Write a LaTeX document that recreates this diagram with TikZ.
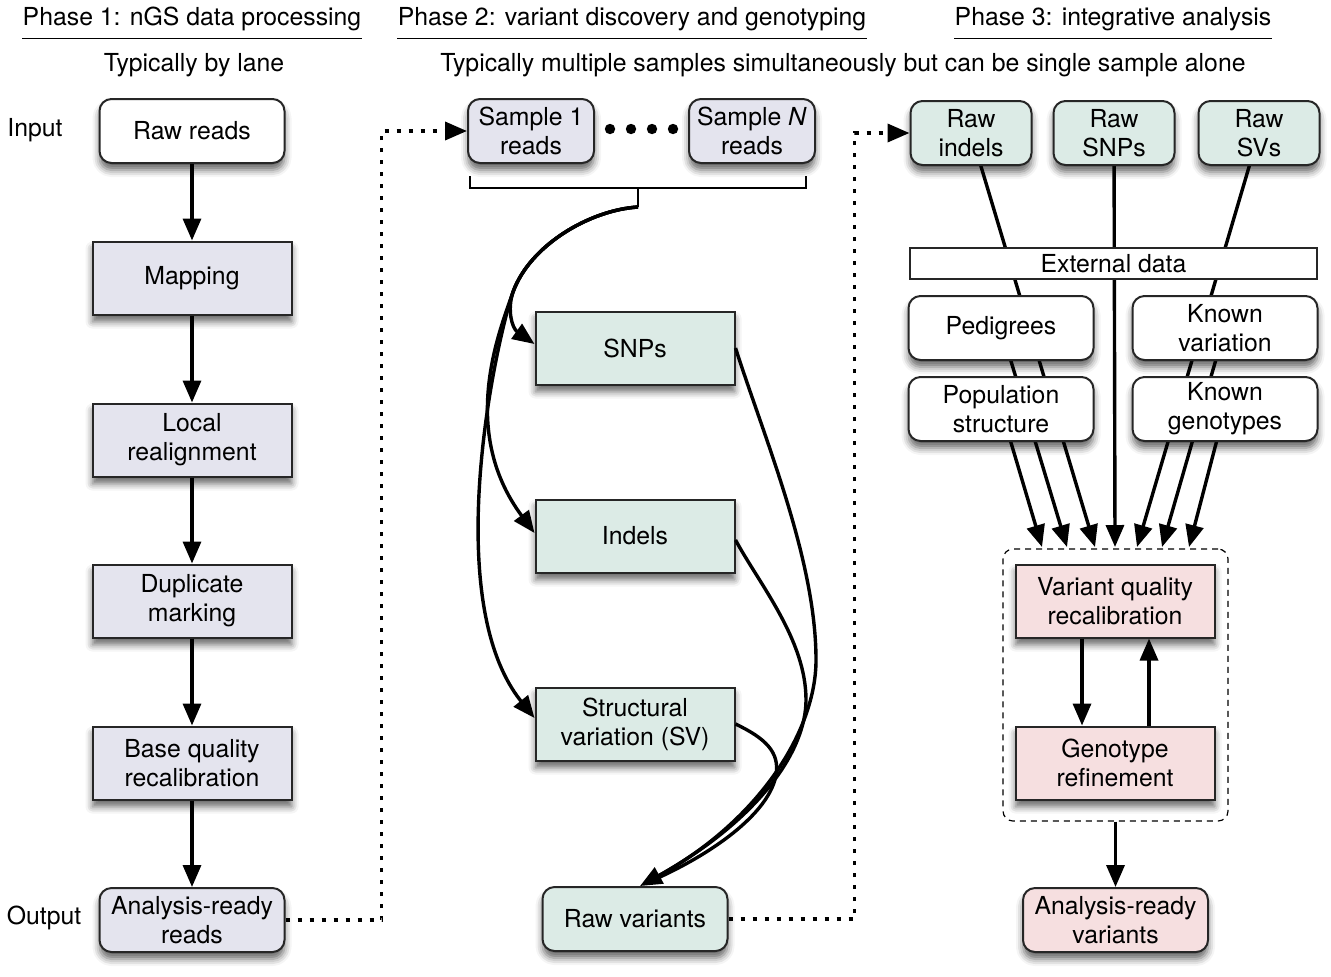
\documentclass[tikz,border=0pt]{standalone}
\usepackage{fontspec}
\setmainfont{TeX Gyre Heros}
\usetikzlibrary{arrows.meta,shadows.blur,backgrounds}
\definecolor{readfill}{RGB}{228,228,238}
\definecolor{varfill}{RGB}{220,235,230}
\definecolor{callfill}{RGB}{246,223,224}
\begin{document}
\begin{tikzpicture}[x=0.5pt,y=-0.5pt,
        every node/.style={font=\fontsize{12.4}{14.5}\selectfont},
        soft/.style={blur shadow={shadow xshift=0pt,shadow yshift=-3.5pt,shadow blur radius=3.5pt,shadow opacity=60}},
        stage/.style={draw=black!85,line width=1pt,align=center,inner sep=0pt,fill=white,soft},
        procbox/.style={stage,minimum width=99.5pt,minimum height=36.5pt},
        filebox/.style={stage,rounded corners=6pt,minimum width=92.5pt,minimum height=32pt},
        flowarrow/.style={line width=1.7pt,-{Triangle[length=11pt,width=9pt]}},
        dotline/.style={line width=1.8pt,dash pattern=on 2pt off 4pt,-{Triangle[length=11pt,width=9pt]}},
        phase/.style={inner sep=0pt}]
        \useasboundingbox (0,0) rectangle (1331,976);

        % headings
        \node[phase] (p1) at (192,19) {Phase 1: nGS data processing};
        \node[phase] (p2) at (632,19) {Phase 2: variant discovery and genotyping};
        \node[phase] (p3) at (1113,19) {Phase 3: integrative analysis};
        \foreach \p in {p1,p2,p3}
            \draw[line width=0.6pt] ([yshift=-3.5pt]\p.south west) -- ([yshift=-3.5pt]\p.south east);
        \node (bylane) at (194,65) {Typically by lane};
        \node (multi) at (843,65) {Typically multiple samples simultaneously but can be single sample alone};
        \node (input) at (35,130) {Input};
        \node (output) at (44,918) {Output};

        % phase 1
        \node[filebox] (raw) at (192,131) {Raw reads};
        \node[procbox,fill=readfill] (mapping) at (192,278) {Mapping};
        \node[procbox,fill=readfill] (realign) at (192,440) {Local\\realignment};
        \node[procbox,fill=readfill] (dedup) at (192,601) {Duplicate\\marking};
        \node[procbox,fill=readfill] (bqsr) at (192,763) {Base quality\\recalibration};
        \node[filebox,fill=readfill] (reads) at (192,920) {Analysis-ready\\reads};
        \foreach \a/\b in {raw/mapping,mapping/realign,realign/dedup,dedup/bqsr,bqsr/reads}
            \draw[flowarrow] (\a) -- (\b);

        % phase 2
        \node[filebox,fill=readfill,minimum width=63pt] (sample1) at (531,131) {Sample 1\\reads};
        \node[filebox,fill=readfill,minimum width=63pt] (sampleN) at (752,131) {Sample \textit{N}\\reads};
        \foreach \x in {610,631,652,673}
            \fill (\x,129) circle (2.6pt);
        \draw[line width=1pt] (470,176) |- (806,188) -- (806,176);
        \draw[line width=1pt] (638,188) -- (638,207) coordinate (fork);

        \node[procbox,fill=varfill] (snps) at (635,348) {SNPs};
        \node[procbox,fill=varfill] (indels) at (635,536) {Indels};
        \node[procbox,fill=varfill] (sv) at (635,724) {Structural\\variation (SV)};
        \node[filebox,fill=varfill] (rawvar) at (635,919) {Raw variants};

        \draw[flowarrow] (fork) .. controls (590,210) and (530,245) .. (513,292)
            .. controls (507,310) and (512,328) .. ([yshift=2pt]snps.west);
        \draw[flowarrow] (fork) .. controls (590,210) and (530,245) .. (513,292)
            .. controls (500,330) and (458,430) .. ([yshift=1.5pt]indels.west);
        \draw[flowarrow] (fork) .. controls (590,210) and (530,245) .. (513,292)
            .. controls (495,345) and (440,600) .. ([yshift=3pt]sv.west);
        \draw[flowarrow] (snps.east) .. controls (765,440) and (816,560) .. (816,660)
            .. controls (816,730) and (760,820) .. ([xshift=2.5pt]rawvar.north);
        \draw[line width=1.7pt,shorten >=8pt] ([yshift=-2pt]indels.east) .. controls (760,585) and (806,640) .. (806,700)
            .. controls (806,750) and (760,820) .. ([xshift=2.5pt]rawvar.north);
        \draw[line width=1.7pt,shorten >=8pt] (sv.east) .. controls (765,738) and (780,752) .. (776,775)
            .. controls (770,810) and (720,850) .. ([xshift=2.5pt]rawvar.north);

        % phase 3
        \node[filebox,fill=varfill,minimum width=60.5pt] (rawindels) at (971,133) {Raw\\indels};
        \node[filebox,fill=varfill,minimum width=60.5pt] (rawsnps) at (1114,133) {Raw\\SNPs};
        \node[filebox,fill=varfill,minimum width=60.5pt] (rawsvs) at (1259,133) {Raw\\SVs};
        \node[draw=black!85,line width=0.7pt,fill=white,inner sep=0pt,minimum width=203.5pt,minimum height=15.5pt] (external) at (1113.5,263.5) {External data};
        \node[filebox] (pedigrees) at (1001,328) {Pedigrees};
        \node[filebox] (knownvar) at (1225,328) {Known\\variation};
        \node[filebox] (popstruct) at (1001,409) {Population\\structure};
        \node[filebox] (knowngeno) at (1225,409) {Known\\genotypes};

        \node[draw,line width=0.6pt,dash pattern=on 3pt off 2.5pt,rounded corners=5pt,minimum width=112.5pt,minimum height=136pt] (loop) at (1115.5,685) {};
        \node[procbox,fill=callfill] (vqsr) at (1115,601) {Variant quality\\recalibration};
        \node[procbox,fill=callfill] (refine) at (1115,763) {Genotype\\refinement};
        \node[filebox,fill=callfill] (readyvar) at (1115.5,920) {Analysis-ready\\variants};

        \foreach \i/\x in {1/1042,2/1067,3/1095,4/1115,5/1137,6/1162,7/1189}
            \coordinate (in\i) at (\x,547);
        \begin{pgfonlayer}{background}
            \foreach \src/\i in {popstruct/1,pedigrees/2,rawindels/3,rawsnps/4,rawsvs/5,knownvar/6,knowngeno/7}
                \draw[flowarrow] (\src.center) -- (in\i);
        \end{pgfonlayer}

        \draw[flowarrow] ([xshift=-16.5pt]vqsr.south) -- ([xshift=-16.5pt]refine.north);
        \draw[flowarrow] ([xshift=17pt]refine.north) -- ([xshift=17pt]vqsr.south);
        \draw[flowarrow] (loop) -- (readyvar);

        % between phases
        \draw[dotline] (reads.east) -- ++(96,0) |- (sample1.west);
        \draw[dotline] (rawvar.east) -- ++(126,0) |- (rawindels.west);
    \end{tikzpicture}
\end{document}
